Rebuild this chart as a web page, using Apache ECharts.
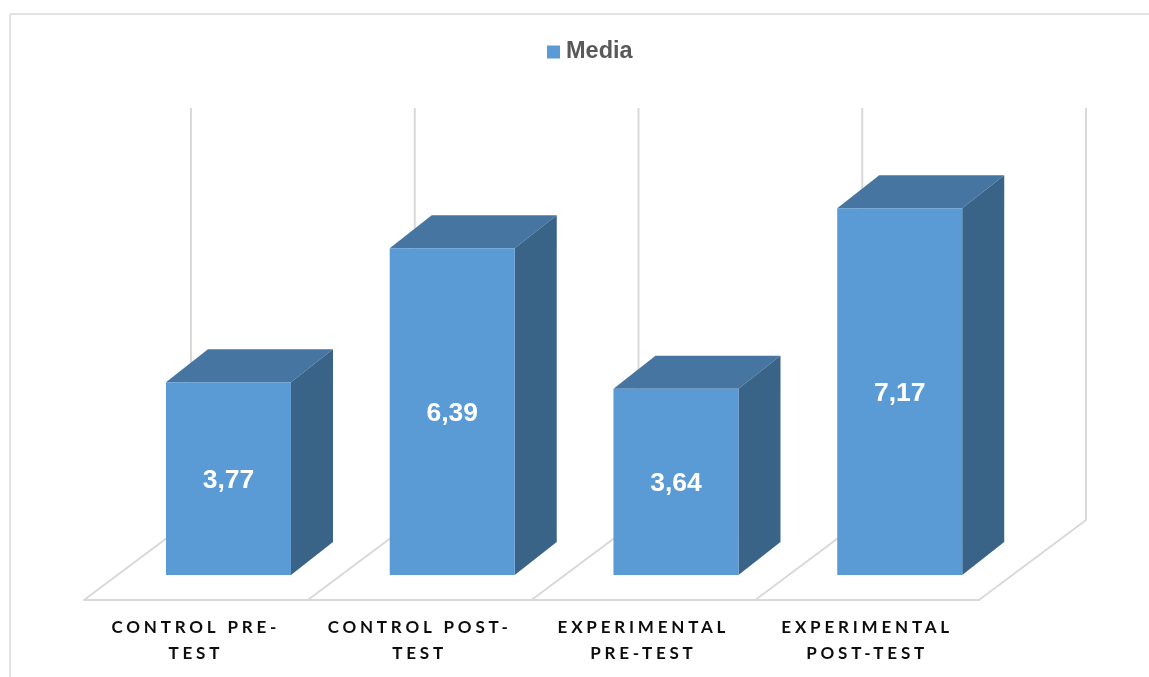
<!DOCTYPE html>
<html>
<head>
<meta charset="utf-8">
<style>html,body{margin:0;padding:0;background:#fff}#c{width:1149px;height:677px}</style>
<script src="https://cdn.jsdelivr.net/npm/echarts@6/dist/echarts.min.js"></script>
</head>
<body>
<div id="c"></div>
<script>
var categories = ['CONTROL PRE-\nTEST', 'CONTROL POST-\nTEST', 'EXPERIMENTAL\nPRE-TEST', 'EXPERIMENTAL\nPOST-TEST'];
var media = [3.77, 6.39, 3.64, 7.17];
var seriesName = 'Media';

var LABEL_FONT = 'Lato';
var LABEL_SPACING = '3.8px';
var nativeFill = CanvasRenderingContext2D.prototype.fillText;
CanvasRenderingContext2D.prototype.fillText = function () {
  if ('letterSpacing' in this) {
    this.letterSpacing = this.font.indexOf(LABEL_FONT) >= 0 ? LABEL_SPACING : '0px';
  }
  return nativeFill.apply(this, arguments);
};

var GRID = '#D9D9D9';
var FRONT = '#5B9BD5', TOP = '#4675A1', SIDE = '#3A6388';
var OFF_X = 32.6, OFF_Y = -25;      // bar foot relative to the floor's front edge
var DEPTH_X = 42, DEPTH_Y = -33;    // bar depth
var BACK_X = 107, BACK_Y = -80;     // floor depth
var BAR_RATIO = 0.5587;
var Y_MAX = 9.62;

function wallItem(params, api) {
  var band = api.size([1, 0])[0];
  var base = api.coord([api.value(0), 0]);
  var top = api.coord([api.value(0), Y_MAX]);
  var xs = [base[0] - band / 2];
  if (params.dataIndex === categories.length - 1) xs.push(base[0] + band / 2);
  var children = xs.map(function (x) {
    return {
      type: 'polyline',
      shape: { points: [[x, base[1]], [x + BACK_X, base[1] + BACK_Y], [x + BACK_X, top[1]]] },
      style: { stroke: GRID, lineWidth: 2, fill: null }
    };
  });
  return { type: 'group', children: children };
}

function barItem(params, api) {
  var band = api.size([1, 0])[0];
  var w = band * BAR_RATIO;
  var foot = api.coord([api.value(0), 0]);
  var head = api.coord([api.value(0), api.value(1)]);
  var x0 = foot[0] + OFF_X - w / 2, x1 = x0 + w;
  var yb = foot[1] + OFF_Y, yt = head[1] + OFF_Y;
  return {
    type: 'group',
    children: [
      { type: 'polygon', shape: { points: [[x0, yt], [x1, yt], [x1 + DEPTH_X, yt + DEPTH_Y], [x0 + DEPTH_X, yt + DEPTH_Y]] }, style: { fill: TOP } },
      { type: 'polygon', shape: { points: [[x1, yb], [x1, yt], [x1 + DEPTH_X, yt + DEPTH_Y], [x1 + DEPTH_X, yb + DEPTH_Y]] }, style: { fill: SIDE } },
      { type: 'rect', shape: { x: x0, y: yt, width: w, height: yb - yt }, style: { fill: FRONT } },
      { type: 'text', style: {
          x: (x0 + x1) / 2, y: (yt + yb) / 2 + 2,
          text: api.value(1).toFixed(2).replace('.', ','),
          fill: '#fff', font: 'bold 26.5px "Liberation Sans"', align: 'center', verticalAlign: 'middle'
      } }
    ]
  };
}

var chart = echarts.init(document.getElementById('c'), null, { renderer: 'canvas' });
chart.setOption({
  animation: false,
  backgroundColor: '#fff',
  legend: {
    data: [seriesName], left: 542, top: 35, icon: 'rect',
    itemWidth: 13, itemHeight: 13, itemGap: 6,
    textStyle: { color: '#595959', fontFamily: 'Liberation Sans', fontWeight: 'bold', fontSize: 23.5, padding: [0, 0, 0, 1] }
  },
  grid: { left: 84, width: 895, top: 108, bottom: 77 },
  xAxis: {
    type: 'category', data: categories,
    axisTick: { show: false },
    axisLine: { lineStyle: { color: GRID, width: 2 } },
    axisLabel: {
      interval: 0, margin: 15, color: '#0D0D0D', lineHeight: 26,
      fontFamily: LABEL_FONT, fontWeight: 'bold', fontSize: 17
    }
  },
  yAxis: { type: 'value', min: 0, max: Y_MAX, show: false, splitLine: { show: false } },
  graphic: [
    { type: 'line', shape: { x1: 10, y1: 14, x2: 1149, y2: 14 }, style: { stroke: GRID, lineWidth: 1.5 } },
    { type: 'line', shape: { x1: 10, y1: 14, x2: 10, y2: 677 }, style: { stroke: GRID, lineWidth: 1.5 } }
  ],
  series: [
    { type: 'custom', name: 'walls', z: 1, silent: true, renderItem: wallItem,
      data: media.map(function (v, i) { return [i, v]; }) },
    { type: 'custom', name: seriesName, z: 2, renderItem: barItem, itemStyle: { color: FRONT },
      encode: { x: 0, y: 1 },
      data: media.map(function (v, i) { return [i, v]; }) }
  ]
});
</script>
</body>
</html>
